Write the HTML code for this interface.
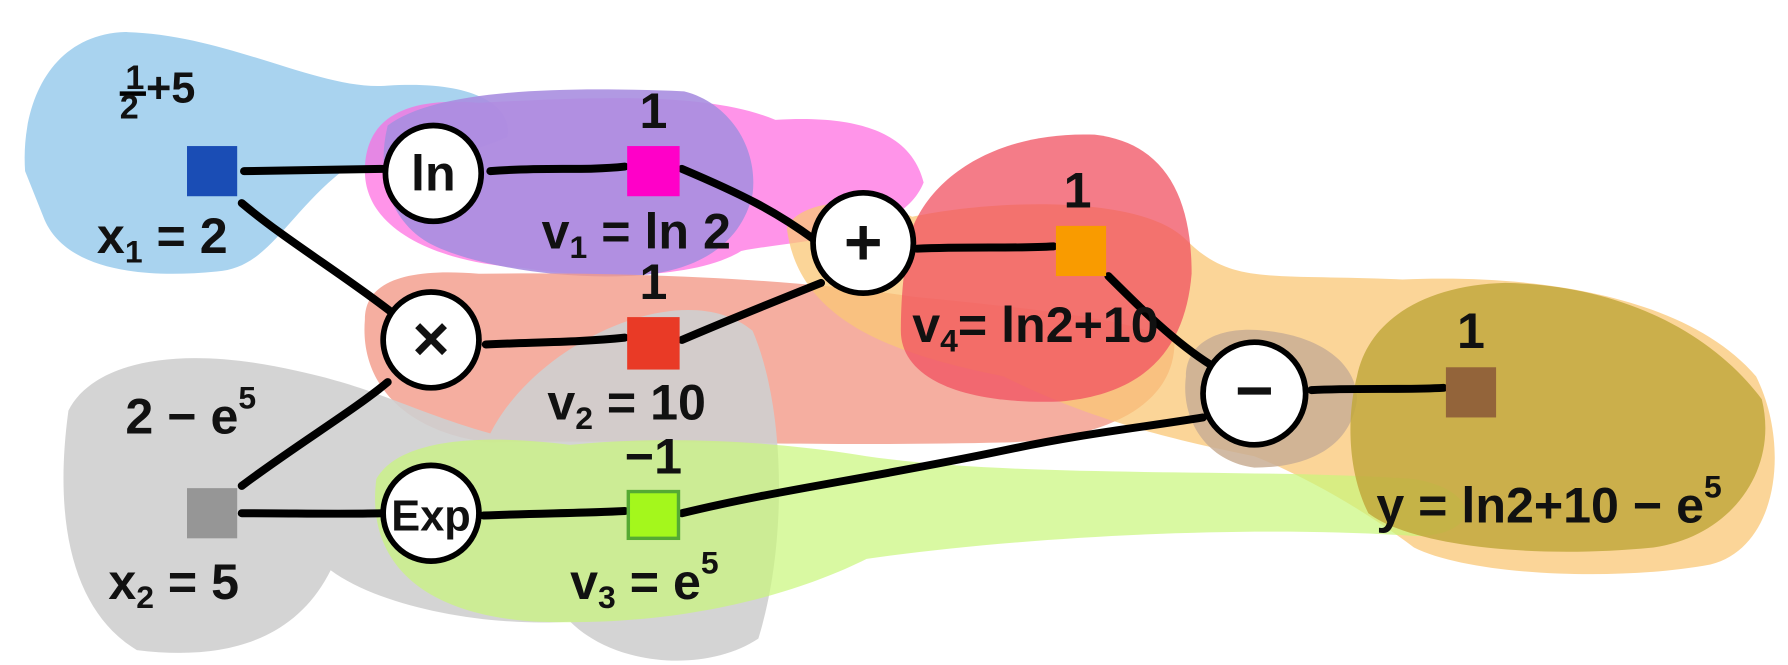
<!DOCTYPE html>
<html><head><style>
html,body{margin:0;padding:0;background:#fff;}
svg{display:block;}
text{font-family:"Liberation Sans Narrow","Liberation Sans",sans-serif;font-weight:bold;fill:#111;}
</style></head><body>
<svg width="1788" height="665" viewBox="0 0 1568 583" xmlns="http://www.w3.org/2000/svg">
<g>
<path d="M22,150 C18,90 45,30 110,28 C200,30 280,80 340,75 C420,70 450,95 445,120 C400,140 330,150 300,150 C250,190 235,235 190,238 C120,245 55,235 38,190 Z" fill="#a9d3ef"/>
<path d="M320,150 C320,100 360,85 420,90 C520,85 620,80 680,105 C760,100 800,120 810,160 C790,210 700,210 650,220 C610,245 520,245 460,235 C380,230 320,200 320,150 Z" fill="#ff66e0" opacity="0.7"/>
<path d="M340,110 C380,80 480,75 600,80 C640,90 665,130 660,170 C650,215 610,240 550,242 C480,245 410,230 380,215 C340,195 330,150 340,110 Z" fill="#a88ee0" opacity="0.9"/>
<path d="M320,280 C320,245 360,235 420,240 C560,238 700,245 800,260 C900,270 1000,280 1030,300 C1030,350 980,385 880,388 C700,392 560,385 430,388 C360,380 315,340 320,280 Z" fill="#f39a88" opacity="0.8"/>
<path d="M690,200 C700,175 760,170 800,190 C870,175 1000,170 1040,210 C1080,250 1110,240 1230,245 C1350,240 1480,260 1540,330 C1570,390 1560,480 1500,495 C1420,510 1290,505 1240,480 C1200,450 1150,420 1100,400 C1000,380 940,360 880,330 C780,310 700,280 690,200 Z" fill="#f9c776" opacity="0.75"/>
<path d="M800,200 C820,150 880,115 960,118 C1020,125 1045,170 1045,240 C1040,300 1010,345 930,352 C840,355 790,330 790,290 C790,250 795,220 800,200 Z" fill="#f05060" opacity="0.75"/>
<path d="M60,360 C80,320 150,300 260,325 C330,340 360,360 430,380 C470,300 600,240 660,290 C690,360 690,480 665,560 C620,590 540,585 500,545 C420,550 330,530 290,500 C260,560 200,580 120,570 C70,540 45,470 60,360 Z" fill="#cfcfcf" opacity="0.9"/>
<path d="M330,420 C350,385 420,380 500,390 C600,380 700,390 760,400 C900,420 1100,410 1240,420 C1300,430 1300,470 1240,470 C1100,460 900,470 760,490 C700,520 600,550 470,545 C380,540 320,500 330,420 Z" fill="#c9f77a" opacity="0.7"/>
<path d="M1040,330 C1040,300 1070,285 1110,290 C1160,295 1190,320 1190,350 C1185,390 1150,410 1100,410 C1060,405 1035,370 1040,330 Z" fill="#c9ae94" opacity="0.85"/>
<path d="M1190,330 C1200,280 1250,250 1320,248 C1420,250 1500,290 1545,350 C1560,410 1520,470 1450,480 C1350,490 1240,480 1200,450 C1180,410 1182,360 1190,330 Z" fill="#c2a83d" opacity="0.85"/>
</g>
<g stroke="#000" stroke-width="7" fill="none" stroke-linecap="round">
<path d="M214,150 L338,148"/>
<path d="M430,150 C480,146 510,150 548,146"/>
<path d="M212,178 C250,210 300,240 345,275"/>
<path d="M598,148 C650,170 680,185 714,210"/>
<path d="M426,302 C470,300 510,300 548,296"/>
<path d="M598,298 C640,280 690,260 720,248"/>
<path d="M804,218 C850,216 890,218 924,216"/>
<path d="M972,242 C1000,270 1030,300 1062,320"/>
<path d="M1150,342 C1190,340 1230,342 1266,340"/>
<path d="M212,426 C260,390 310,360 340,335"/>
<path d="M212,450 C260,450 300,451 336,450"/>
<path d="M424,452 C470,450 510,450 548,448"/>
<path d="M598,450 C680,430 760,420 880,395 C950,380 1000,375 1055,366"/>
</g>
<rect x="164" y="128" width="44" height="44" fill="#1a4db5"/>
<rect x="550" y="128" width="46" height="44" fill="#ff00c8"/>
<rect x="550" y="278" width="46" height="46" fill="#e93a26"/>
<rect x="926" y="198" width="44" height="44" fill="#f99b00"/>
<rect x="1268" y="322" width="44" height="44" fill="#93643a"/>
<rect x="164" y="428" width="44" height="44" fill="#969696"/>
<rect x="551" y="431" width="44" height="41" fill="#a4f71c" stroke="#55aa33" stroke-width="3"/>
<g fill="#fff" stroke="#000" stroke-width="5">
<circle cx="380" cy="152" r="42"/>
<circle cx="378" cy="298" r="42"/>
<circle cx="757" cy="213" r="44"/>
<circle cx="1100" cy="345" r="45"/>
<circle cx="378" cy="450" r="42"/>
</g>
<text x="380" y="167" font-size="44" text-anchor="middle">ln</text>
<text x="378" y="316" font-size="56" text-anchor="middle" font-weight="normal">×</text>
<text x="757" y="232" font-size="58" text-anchor="middle">+</text>
<text x="1100" y="362" font-size="58" text-anchor="middle">−</text>
<text x="378" y="465" font-size="38" text-anchor="middle">Exp</text>
<g font-size="44">
<text x="110" y="78" font-size="30">1</text>
<line x1="105" y1="82" x2="128" y2="82" stroke="#000" stroke-width="4"/>
<text x="105" y="104" font-size="30">2</text>
<text x="128" y="90" font-size="38">+5</text>
<text x="85" y="222">x<tspan font-size="28" dy="8">1</tspan><tspan dy="-8"> = 2</tspan></text>
<text x="573" y="112" text-anchor="middle">1</text>
<text x="475" y="218">v<tspan font-size="28" dy="8">1</tspan><tspan dy="-8"> = ln 2</tspan></text>
<text x="573" y="262" text-anchor="middle">1</text>
<text x="480" y="368">v<tspan font-size="28" dy="8">2</tspan><tspan dy="-8"> = 10</tspan></text>
<text x="945" y="182" text-anchor="middle">1</text>
<text x="800" y="300">v<tspan font-size="28" dy="8">4</tspan><tspan dy="-8">= ln2+10</tspan></text>
<text x="1290" y="305" text-anchor="middle">1</text>
<text x="1207" y="458">y = ln2+10 − e<tspan font-size="28" dy="-22">5</tspan></text>
<text x="110" y="380">2 − e<tspan font-size="28" dy="-22">5</tspan></text>
<text x="95" y="525">x<tspan font-size="28" dy="8">2</tspan><tspan dy="-8"> = 5</tspan></text>
<text x="573" y="415" text-anchor="middle">−1</text>
<text x="500" y="525">v<tspan font-size="28" dy="8">3</tspan><tspan dy="-8"> = e</tspan><tspan font-size="28" dy="-22">5</tspan></text>
</g>
</svg>
</body></html>
